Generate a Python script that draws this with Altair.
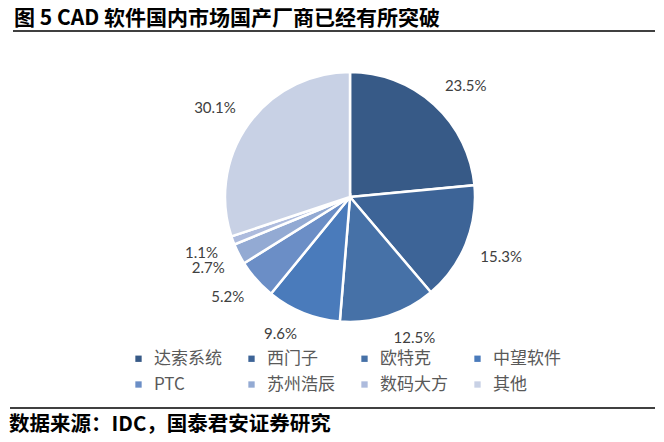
import altair as alt
import pandas as pd

TITLE = "图 5 CAD 软件国内市场国产厂商已经有所突破"
SOURCE = "数据来源：IDC，国泰君安证券研究"

names = ["达索系统", "西门子", "欧特克", "中望软件", "PTC", "苏州浩辰", "数码大方", "其他"]
values = [23.5, 15.3, 12.5, 9.6, 5.2, 2.7, 1.1, 30.1]
colors = ["#375a87", "#3d6497", "#4671a7", "#4a7bbb", "#6b8ec6", "#93aad3", "#adbbdd", "#c8d1e5"]

df = pd.DataFrame({"name": names, "value": values, "idx": list(range(len(names)))})

CJK = "Noto Sans CJK SC"
CX, CY = 342, 189

arc = alt.Chart(df).mark_arc(outerRadius=125, stroke="white", strokeWidth=2.5).encode(
    theta=alt.Theta("value:Q", stack=True),
    color=alt.Color(
        "name:N",
        scale=alt.Scale(domain=names, range=colors),
        sort=names,
        legend=alt.Legend(title=None),
    ),
    order=alt.Order("idx:Q"),
    x=alt.value(CX),
    y=alt.value(CY),
)

labels = (
    alt.Chart(df)
    .transform_window(cum="sum(value)", sort=[alt.SortField("idx")], frame=[None, 0])
    .transform_joinaggregate(total="sum(value)")
    .transform_calculate(
        mid="(datum.cum - datum.value/2) / datum.total * 2 * PI",
        lab="format(datum.value, '.1f') + '%'",
    )
    .transform_calculate(w="length(datum.lab) * 8.6")
    .transform_calculate(
        cx="140 * sin(datum.mid) + (sin(datum.mid) >= 0 ? 1 : -1) * datum.w / 2",
        cy="-140 * cos(datum.mid) + (cos(datum.mid) >= 0 ? -1 : 1) * 7.5",
    )
    .transform_calculate(
        rp="sqrt(datum.cx * datum.cx + datum.cy * datum.cy)",
        tp="atan2(datum.cx, -datum.cy)",
    )
    .mark_text(font="Lato", fontSize=15, color="#404040", align="center", baseline="middle")
    .encode(
        theta=alt.Theta("tp:Q", scale=None, stack=False),
        radius=alt.Radius("rp:Q", scale=None),
        text="lab:N",
        x=alt.value(CX),
        y=alt.value(CY),
    )
)

title = alt.Chart(pd.DataFrame({"t": [TITLE]})).mark_text(
    align="left", baseline="middle", font=CJK, fontSize=21, fontWeight="bold", color="#000000"
).encode(x=alt.value(6), y=alt.value(11), text="t:N")

source = alt.Chart(pd.DataFrame({"t": [SOURCE]})).mark_text(
    align="left", baseline="middle", font=CJK, fontSize=20.5, fontWeight="bold", color="#000000"
).encode(x=alt.value(1), y=alt.value(417), text="t:N")

top_line = alt.Chart(pd.DataFrame({"a": [0]})).mark_rule(color="#000000", strokeWidth=1.5).encode(
    x=alt.value(5), x2=alt.value(647), y=alt.value(23)
)
bottom_line = alt.Chart(pd.DataFrame({"a": [0]})).mark_rule(color="#000000", strokeWidth=1.5).encode(
    x=alt.value(2), x2=alt.value(647), y=alt.value(400)
)

chart = (
    alt.layer(arc, labels, title, source, top_line, bottom_line)
    .resolve_scale(theta="independent")
    .properties(
        width=648,
        height=426,
        padding=0,
        autosize=alt.AutoSizeParams(type="none"),
        background="white",
    )
    .configure_view(strokeWidth=0)
    .configure_legend(
        orient="none",
        direction="horizontal",
        legendX=122,
        legendY=342,
        columns=4,
        symbolType="square",
        symbolSize=40,
        symbolStrokeWidth=0,
        labelFont=CJK,
        labelFontSize=17,
        labelColor="#595959",
        labelOffset=7,
        columnPadding=21,
        rowPadding=8,
        gridAlign="all",
        padding=0,
    )
)

chart.save("out.html", embed_options={"renderer": "svg", "actions": False})
